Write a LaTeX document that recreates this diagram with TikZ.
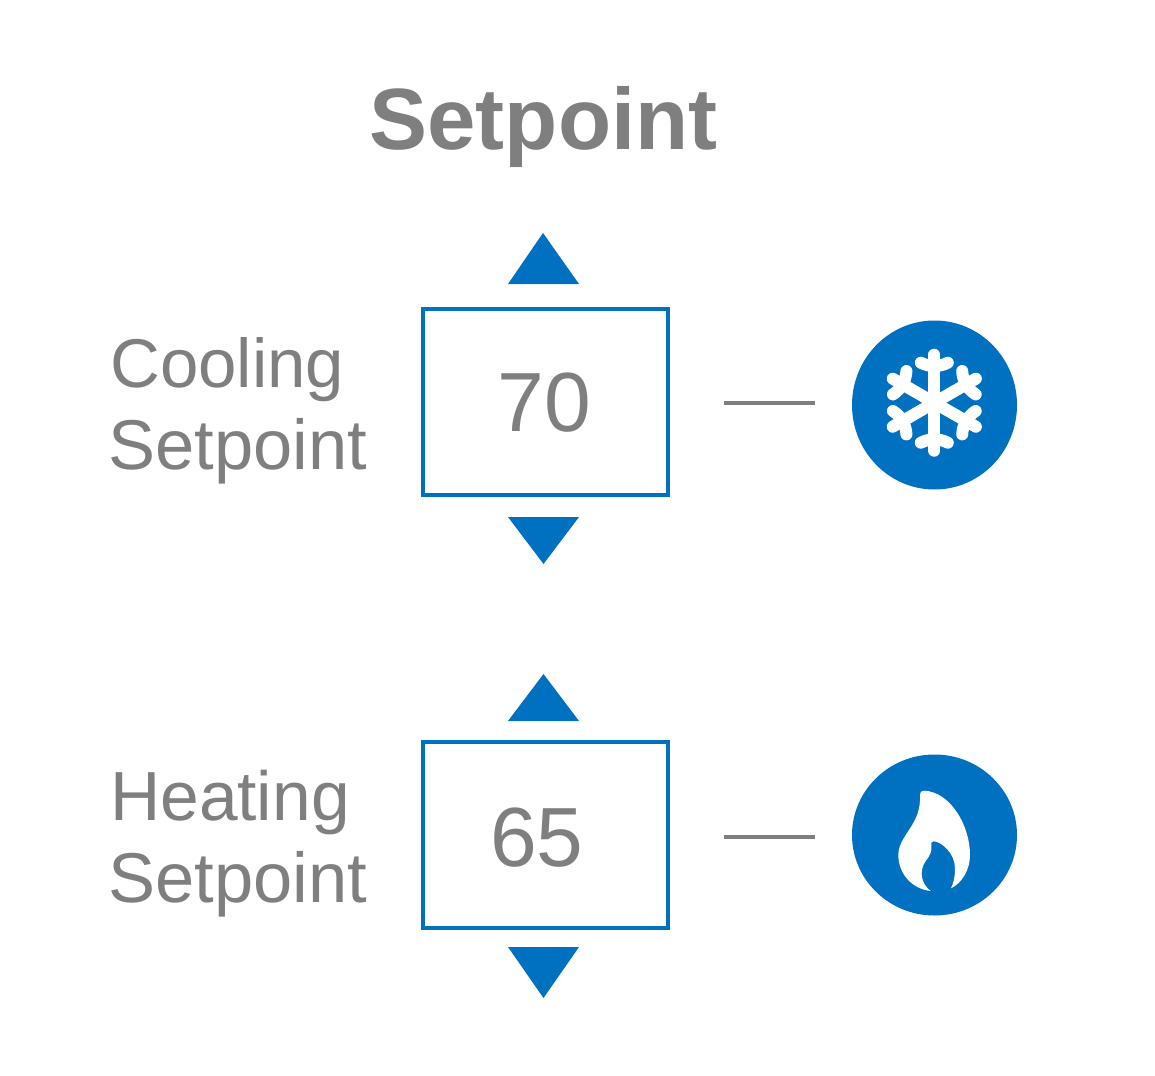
\documentclass[tikz,border=0pt]{standalone}
\usepackage{fontspec}
\setmainfont{Liberation Sans}
\definecolor{iconblue}{HTML}{0070C0}
\definecolor{txtgray}{HTML}{7F7F7F}
\newcommand{\fs}[1]{\fontsize{#1pt}{#1pt}\selectfont}
\tikzset{
  x=1pt,y=-1pt,
  valuebox/.style={draw=iconblue,line width=4pt,fill=white,minimum width=245pt,minimum height=186pt,inner sep=0pt},
  valuetext/.style={text=txtgray,inner sep=0pt,font=\fs{84}},
  labeltext/.style={text=txtgray,inner sep=0pt,anchor=base west,font=\fs{70}},
  titletext/.style={text=txtgray,inner sep=0pt,font=\bfseries\fs{87}},
  tri/.style={fill=iconblue,draw=none},
  tick/.style={draw=txtgray,line width=4pt},
  badge/.style={fill=iconblue,draw=none},
  flakeline/.style={draw=white,line width=12pt,line cap=round}
}
\begin{document}
\begin{tikzpicture}
\useasboundingbox (0,0) rectangle (1155,1075);
\fill[white] (0,0) rectangle (1155,1075);
\node[titletext,anchor=base] (title) at (543.5,150) {Setpoint};

% arrows
\fill[tri] (543,233) -- (579,284) -- (508,284) -- cycle;
\fill[tri] (508,517) -- (579,517) -- (543.5,564) -- cycle;
\fill[tri] (543.5,674) -- (579,721) -- (508,721) -- cycle;
\fill[tri] (508,947) -- (579,947) -- (543.5,998) -- cycle;

% boxes
\node[valuebox] (coolbox) at (545.5,402) {};
\node[valuebox] (heatbox) at (545.5,835) {};
\node[valuetext,anchor=base] (coolval) at (544.5,431) {70};
\node[valuetext,anchor=base] (heatval) at (537,866) {65};

% labels
\node[labeltext,font=\fs{69}] (cool1) at (110,387) {Cooling};
\node[labeltext,font=\fs{70.5}] (cool2) at (108.5,469) {Setpoint};
\node[labeltext,font=\fs{69.5}] (heat1) at (110,820) {Heating};
\node[labeltext,font=\fs{70.5}] (heat2) at (108.5,902) {Setpoint};

% connectors
\coordinate (c1a) at (724,402.5); \coordinate (c1b) at (815,402.5);
\coordinate (c2a) at (724,836.5); \coordinate (c2b) at (815,836.5);
\draw[tick] (c1a) -- (c1b);
\draw[tick] (c2a) -- (c2b);

% badges
\fill[badge] (934.5,405) ellipse [x radius=82.5,y radius=84.5];
\fill[badge] (934.5,835) ellipse [x radius=82.5,y radius=80.5];

% snowflake
\begin{scope}[shift={(934.3,402.7)}]
\foreach \a in {0,60,120,180,240,300}{
  \begin{scope}[rotate=\a]
    \draw[flakeline] (0,0) -- (0,-48);
    \draw[flakeline] (-13.5,-40) .. controls (-9,-37.5) and (-4,-37) .. (0,-36) .. controls (4,-37) and (9,-37.5) .. (13.5,-40);
  \end{scope}
}
\end{scope}

% flame
\begin{scope}[shift={(840,745)},x=0.3333pt,y=-0.3333pt]
\fill[white] (272,438) .. controls (215,432) and (175,385) .. (175,330)
  .. controls (175,270) and (245,240) .. (240,150)
  .. controls (239,141) and (244,137) .. (252,137)
  .. controls (330,140) and (390,240) .. (390,330)
  .. controls (390,375) and (365,415) .. (333,430)
  .. controls (342,410) and (345,395) .. (345,370)
  .. controls (345,325) and (305,290) .. (281,289)
  .. controls (274,289) and (273,294) .. (274,302)
  .. controls (278,340) and (245,345) .. (245,385)
  .. controls (245,410) and (260,430) .. (272,438) -- cycle;
\end{scope}
\end{tikzpicture}
\end{document}
